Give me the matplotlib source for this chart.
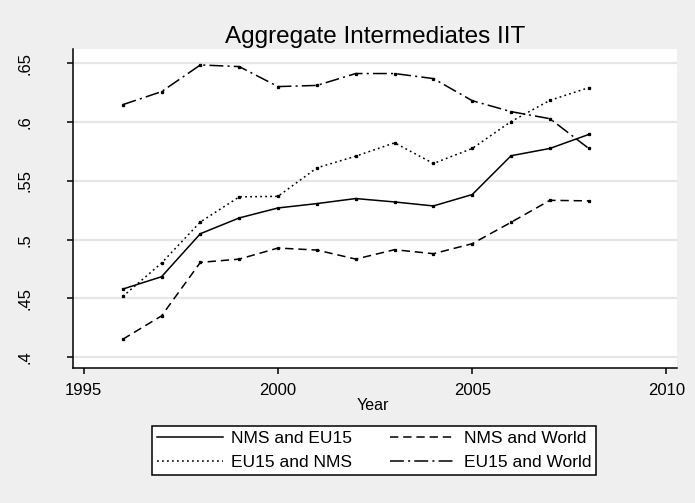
import matplotlib
matplotlib.use("Agg")
import matplotlib.pyplot as plt

plt.rcParams['font.family'] = ['Liberation Sans', 'DejaVu Sans']
plt.rcParams['lines.scale_dashes'] = False

years = [1996, 1997, 1998, 1999, 2000, 2001, 2002, 2003, 2004, 2005, 2006, 2007, 2008]
nms_eu15 = [0.458, 0.4685, 0.5051, 0.5185, 0.527, 0.5307, 0.535, 0.5321, 0.5287, 0.5384, 0.5714, 0.5776, 0.5895]
nms_world = [0.4153, 0.4352, 0.4807, 0.4835, 0.4929, 0.4912, 0.4835, 0.4915, 0.4881, 0.4966, 0.5148, 0.5335, 0.533]
eu15_nms = [0.4517, 0.4801, 0.5151, 0.5364, 0.5369, 0.5611, 0.571, 0.5824, 0.5648, 0.5776, 0.6005, 0.6185, 0.6293]
eu15_world = [0.6148, 0.6259, 0.6486, 0.6472, 0.6302, 0.6312, 0.6413, 0.6413, 0.637, 0.6182, 0.6089, 0.6029, 0.5776]

xticks = [1995, 2000, 2005, 2010]
yticks = [0.4, 0.45, 0.5, 0.55, 0.6, 0.65]
ylabels = ['.4', '.45', '.5', '.55', '.6', '.65']

bg = '#efefef'
fig = plt.figure(figsize=(6.95, 5.03), dpi=100, facecolor=bg)
ax = fig.add_axes([0.1050, 0.2684, 0.8690, 0.6338])
ax.set_facecolor('white')

style = dict(color='black', lw=1.1, marker='s', markersize=1.4)
l1, = ax.plot(years, nms_eu15, linestyle='-', label='NMS and EU15', **style)
l2, = ax.plot(years, nms_world, linestyle=(0, (6, 3.5)), label='NMS and World', **style)
l3, = ax.plot(years, eu15_nms, linestyle=(0, (1.3, 2.3)), label='EU15 and NMS', **style)
l4, = ax.plot(years, eu15_world, linestyle=(0, (10, 3, 1.5, 3)), label='EU15 and World', **style)

ax.set_xlim(1994.72, 2010.27)
ax.set_ylim(0.3909, 0.662)
ax.set_xticks(xticks)
ax.set_yticks(yticks)
ax.set_yticklabels(ylabels, rotation=90, va='center')
ax.grid(axis='y', color='#e6e6e6', lw=1.6)
ax.set_axisbelow(True)

for s in ['top', 'right']:
    ax.spines[s].set_visible(False)
for s in ['left', 'bottom']:
    ax.spines[s].set_linewidth(1.1)
ax.tick_params(axis='x', length=4, width=1.1, pad=7, labelsize=12)
ax.tick_params(axis='y', length=4.5, width=1.1, pad=25, labelsize=12)

fig.text(0.540, 1 - 43 / 503, 'Aggregate Intermediates IIT', ha='center', va='baseline', fontsize=17.5)
fig.text(0.537, 1 - 410 / 503, 'Year', ha='center', va='baseline', fontsize=11.5)

leg = fig.legend([l1, l3, l2, l4], ['NMS and EU15', 'EU15 and NMS', 'NMS and World', 'EU15 and World'],
                 ncol=2, loc='center', bbox_to_anchor=(0.538, 0.1044), fontsize=12.5,
                 handlelength=3.8, handletextpad=0.45, columnspacing=2.2, labelspacing=0.52,
                 borderpad=0.3, borderaxespad=0, fancybox=False, framealpha=1, edgecolor='black')
leg.get_frame().set_linewidth(1.1)
for h in leg.legend_handles:
    h.set_marker('')

fig.savefig('out.png', dpi=100, facecolor=bg)
